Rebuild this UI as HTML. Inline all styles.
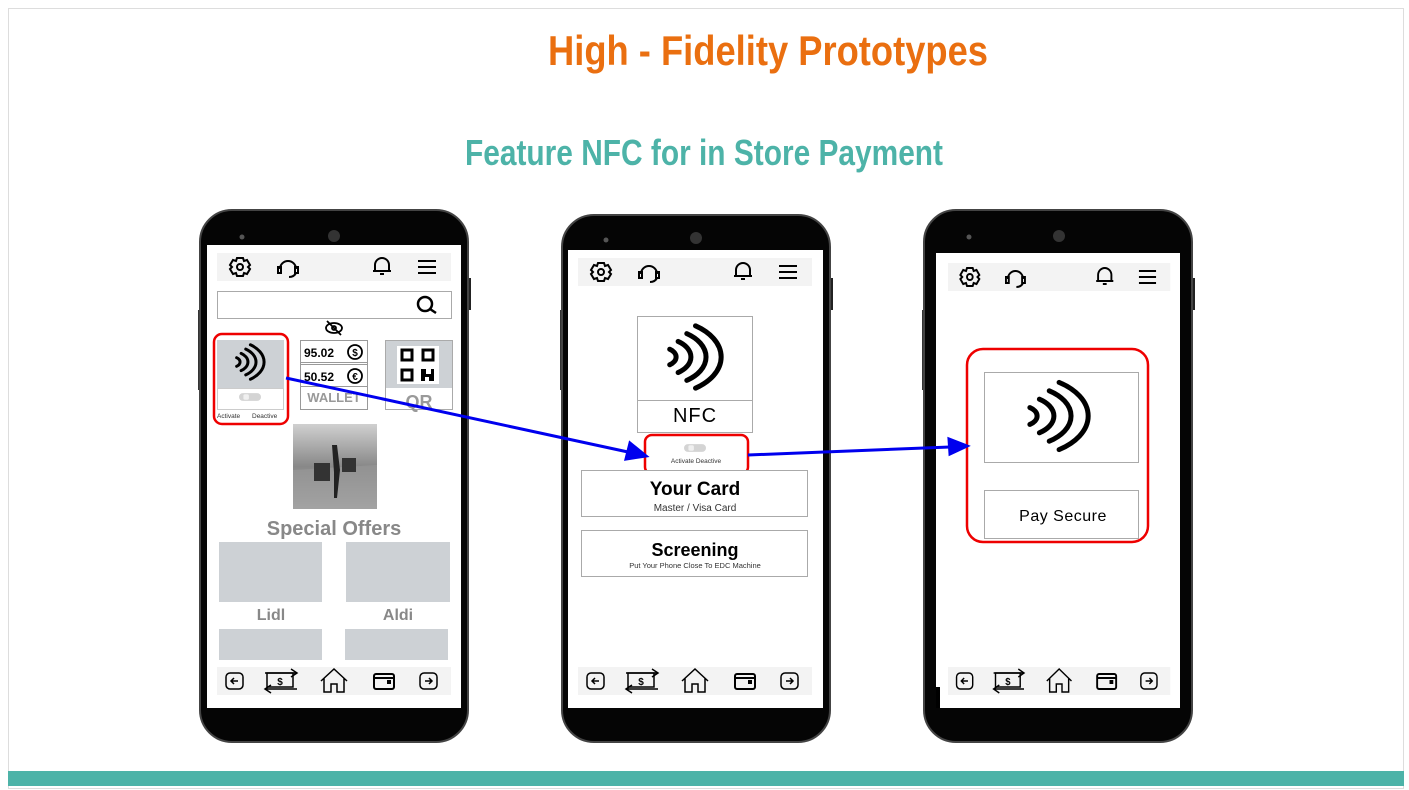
<!DOCTYPE html>
<html><head><meta charset="utf-8"><style>
html,body{margin:0;padding:0;background:#fff;}
svg{display:block;}
text{font-family:"Liberation Sans",sans-serif;}
</style></head><body>
<svg width="1409" height="790" viewBox="0 0 1409 790" xmlns="http://www.w3.org/2000/svg">
<defs>
<g id="nfc" fill="none" stroke-linecap="round" vector-effect="non-scaling-stroke">
<path vector-effect="non-scaling-stroke" d="M2.9 -4.1 A5 5 0 0 1 2.9 4.1"/>
<path vector-effect="non-scaling-stroke" d="M5.7 -8.2 A10 10 0 0 1 5.7 8.2"/>
<path vector-effect="non-scaling-stroke" d="M8.6 -12.3 A15 15 0 0 1 8.6 12.3"/>
<path vector-effect="non-scaling-stroke" d="M11.5 -16.4 A20 20 0 0 1 11.5 16.4"/>
</g>
<g id="gear" fill="none" stroke="#000" stroke-width="2">
<circle r="3"/><path d="M-3 -9 L3 -9 L4 -6 L7 -7 L10 -2 L8 0 L10 2 L7 7 L4 6 L3 9 L-3 9 L-4 6 L-7 7 L-10 2 L-8 0 L-10 -2 L-7 -7 L-4 -6Z"/>
</g>
<g id="head" fill="none" stroke="#000" stroke-width="2">
<path d="M-8 2 A8 8 0 0 1 8 2"/><rect x="-10" y="0" width="3" height="6"/><rect x="7" y="0" width="3" height="6"/><path d="M8 6 Q6 10 1 10"/>
</g>
<g id="bell" fill="none" stroke="#000" stroke-width="2">
<path d="M-7 5 L-7 -1 A7 7 0 0 1 7 -1 L7 5 Z M-9 5 L9 5"/><path d="M-2 8 L2 8"/>
</g>
<g id="menu" stroke="#000" stroke-width="2"><path d="M-9 -6H9M-9 0H9M-9 6H9"/></g>
<g id="bottom" fill="none" stroke="#000" stroke-width="1.5">
<rect x="-9" y="-8" width="17" height="16" rx="4"/><path d="M3 0H-4M-1 -3L-4 0L-1 3"/>
</g>
<g id="tbar">
<rect x="0" y="0" width="234" height="28" fill="#f3f3f3"/>
<use href="#gear" x="23" y="14"/><use href="#head" x="71" y="14"/><use href="#bell" x="165" y="13"/><use href="#menu" x="210" y="14"/>
</g>
<g id="bbar">
<rect x="0" y="0" width="234" height="28" fill="#f3f3f3"/>
<use href="#bottom" x="18" y="14"/>
<g fill="none" stroke="#000" stroke-width="1.5"><rect x="50" y="6" width="26" height="14"/><path d="M48 6H80M74 2L80 6L74 10M80 22H48M54 18L48 22L54 26"/></g>
<text x="63" y="18" font-size="10" font-weight="bold" text-anchor="middle">$</text>
<path d="M104 14L117 2L130 14M107 11V25H114V17H120V25H127V11" fill="none" stroke="#000" stroke-width="1.5"/>
<g fill="none" stroke="#000" stroke-width="2"><rect x="157" y="7" width="20" height="15" rx="2"/><path d="M157 11H177"/><rect x="171" y="14" width="2" height="2" fill="#000"/></g>
<g transform="translate(211,14) scale(-1,1)"><use href="#bottom"/></g>
</g>
<g id="toggle">
<rect x="-20" y="-7" width="40" height="14" rx="7" fill="#d4d4d4"/><rect x="-12" y="-5" width="10" height="10" rx="3" fill="#f0f0f0"/>
</g>
<linearGradient id="ph" x1="0" y1="0" x2="0" y2="1"><stop offset="0" stop-color="#d0d0d0"/><stop offset="0.5" stop-color="#888"/><stop offset="1" stop-color="#b0b0b0"/></linearGradient>
</defs>

<rect x="8.5" y="8.5" width="1395" height="780" fill="#fff" stroke="#ddd"/>
<rect x="8" y="771" width="1396" height="15" fill="#4db3a8"/>

<text x="768" y="65" font-family="Liberation Sans Narrow, Liberation Sans, sans-serif" font-size="42" font-weight="bold" fill="#ea6f10" text-anchor="middle" textLength="440" lengthAdjust="spacingAndGlyphs">High - Fidelity Prototypes</text>
<text x="704" y="165" font-family="Liberation Sans Narrow, Liberation Sans, sans-serif" font-size="36" font-weight="bold" fill="#4db3a8" text-anchor="middle" textLength="478" lengthAdjust="spacingAndGlyphs">Feature NFC for in Store Payment</text>

<!-- Phone 1 -->
<rect x="198" y="310" width="4" height="80" fill="#333"/>
<rect x="466" y="278" width="5" height="32" fill="#222"/>
<rect x="200" y="210" width="268" height="532" rx="32" fill="#050505" stroke="#444" stroke-width="2"/>
<circle cx="242" cy="237" r="2.5" fill="#555"/><circle cx="334" cy="236" r="6" fill="#333"/>
<rect x="207" y="245" width="254" height="463" fill="#fff"/>
<use href="#tbar" x="217" y="253"/>
<rect x="217.5" y="291.5" width="234" height="27" fill="#fff" stroke="#aaa"/>
<circle cx="425" cy="304" r="7" fill="none" stroke="#000" stroke-width="2.5"/><path d="M430 309L436 313" stroke="#000" stroke-width="2.5"/>
<g fill="none" stroke="#000" stroke-width="1.8"><ellipse cx="334" cy="328" rx="8" ry="5"/><circle cx="334" cy="328" r="2"/><path d="M327 321L341 335"/></g>
<rect x="217" y="340" width="67" height="48" fill="#cdd1d5"/>
<g transform="translate(232,362) scale(1.6,1.05)" stroke="#000" stroke-width="3"><use href="#nfc"/></g>
<rect x="217.5" y="388.5" width="66" height="21" fill="#fff" stroke="#ccc"/>
<g transform="translate(250,397) scale(0.55)"><use href="#toggle"/></g>
<text x="217" y="418" font-size="6.5" fill="#333">Activate</text><text x="252" y="418" font-size="6.5" fill="#333">Deactive</text>
<rect x="214" y="334" width="74" height="90" rx="8" fill="none" stroke="#e00" stroke-width="2.5"/>
<rect x="300.5" y="340.5" width="67" height="69" fill="#fff" stroke="#999"/>
<rect x="300.5" y="340.5" width="67" height="22" fill="#fff" stroke="#999"/>
<rect x="300.5" y="364.5" width="67" height="22" fill="#fff" stroke="#999"/>
<text x="304" y="357" font-size="12" font-weight="bold">95.02</text><circle cx="355" cy="352" r="7" fill="none" stroke="#000" stroke-width="1.8"/><text x="355" y="356" font-size="10" font-weight="bold" text-anchor="middle">$</text>
<text x="304" y="381" font-size="12" font-weight="bold">50.52</text><circle cx="355" cy="376" r="7" fill="none" stroke="#000" stroke-width="1.8"/><text x="355" y="380" font-size="10" font-weight="bold" text-anchor="middle">€</text>
<text x="334" y="402" font-size="13" font-weight="bold" fill="#999" text-anchor="middle">WALLET</text>
<rect x="385.5" y="340.5" width="67" height="69" fill="#fff" stroke="#aaa"/>
<rect x="386" y="341" width="66" height="47" fill="#cdd1d5"/>
<rect x="397" y="346" width="42" height="38" fill="#fff"/>
<g fill="none" stroke="#000" stroke-width="3"><rect x="402" y="350" width="10" height="10"/><rect x="423" y="350" width="10" height="10"/><rect x="402" y="370" width="10" height="10"/></g>
<path d="M421 369h5v5h5v-5h3v12h-5v-4h-4v4h-4z" fill="#000"/>
<text x="419" y="408" font-size="18" font-weight="bold" fill="#999" text-anchor="middle">QR</text>
<rect x="293" y="424" width="84" height="85" fill="url(#ph)"/>
<path d="M293 470 L377 465 L377 509 L293 509Z" fill="#999" opacity="0.6"/>
<path d="M332 445 l5 0 l3 25 l-3 28 l-3 0 l0 -26z" fill="#222"/><rect x="314" y="463" width="16" height="18" fill="#333"/><rect x="342" y="458" width="14" height="14" fill="#333"/>
<text x="334" y="535" font-size="20" font-weight="bold" fill="#888" text-anchor="middle">Special Offers</text>
<rect x="219" y="542" width="103" height="60" fill="#cdd1d5"/><rect x="346" y="542" width="104" height="60" fill="#cdd1d5"/>
<text x="271" y="620" font-size="16" font-weight="bold" fill="#888" text-anchor="middle">Lidl</text>
<text x="398" y="620" font-size="16" font-weight="bold" fill="#888" text-anchor="middle">Aldi</text>
<rect x="219" y="629" width="103" height="31" fill="#cdd1d5"/><rect x="345" y="629" width="103" height="31" fill="#cdd1d5"/>
<use href="#bbar" x="217" y="667"/>

<!-- Phone 2 -->
<rect x="560" y="310" width="4" height="80" fill="#333"/>
<rect x="828" y="278" width="5" height="32" fill="#222"/>
<rect x="562" y="215" width="268" height="527" rx="32" fill="#050505" stroke="#444" stroke-width="2"/>
<circle cx="606" cy="240" r="2.5" fill="#555"/><circle cx="696" cy="238" r="6" fill="#333"/>
<rect x="568" y="250" width="255" height="458" fill="#fff"/>
<use href="#tbar" x="578" y="258"/>
<rect x="637.5" y="316.5" width="115" height="116" fill="#fff" stroke="#aaa"/>
<path d="M637.5 400.5H752.5" stroke="#aaa"/>
<g transform="translate(661,357) scale(3,1.9)" stroke="#000" stroke-width="5"><use href="#nfc"/></g>
<text x="695" y="422" font-size="20" text-anchor="middle" letter-spacing="1">NFC</text>
<g transform="translate(695,448) scale(0.55)"><use href="#toggle"/></g>
<text x="696" y="463" font-size="6.5" fill="#333" text-anchor="middle">Activate  Deactive</text>
<rect x="645" y="435" width="103" height="39" rx="7" fill="none" stroke="#e00" stroke-width="2.5"/>
<rect x="581.5" y="470.5" width="226" height="46" fill="#fff" stroke="#aaa"/>
<text x="695" y="495" font-size="19" font-weight="bold" text-anchor="middle">Your Card</text>
<text x="695" y="511" font-size="10" fill="#333" text-anchor="middle">Master / Visa Card</text>
<rect x="581.5" y="530.5" width="226" height="46" fill="#fff" stroke="#aaa"/>
<text x="695" y="556" font-size="18" font-weight="bold" text-anchor="middle">Screening</text>
<text x="695" y="568" font-size="7.5" fill="#333" text-anchor="middle">Put Your Phone Close To EDC Machine</text>
<use href="#bbar" x="578" y="667"/>

<!-- Phone 3 -->
<rect x="922" y="310" width="4" height="80" fill="#333"/>
<rect x="1190" y="278" width="5" height="32" fill="#222"/>
<rect x="924" y="210" width="268" height="532" rx="32" fill="#050505" stroke="#444" stroke-width="2"/>
<circle cx="969" cy="237" r="2.5" fill="#555"/><circle cx="1059" cy="236" r="6" fill="#333"/>
<rect x="936" y="253" width="244" height="455" fill="#fff"/>
<rect x="936" y="687" width="4" height="21" fill="#000"/>
<g transform="translate(948,263) scale(0.95,1)"><use href="#tbar"/></g>
<rect x="984.5" y="372.5" width="154" height="90" fill="#fff" stroke="#aaa"/>
<g transform="translate(1020,416) scale(3.4,2.05)" stroke="#000" stroke-width="5"><use href="#nfc"/></g>
<rect x="984.5" y="490.5" width="154" height="48" fill="#fff" stroke="#aaa"/>
<text x="1063" y="521" font-size="16" text-anchor="middle" letter-spacing="0.5">Pay Secure</text>
<rect x="967" y="349" width="181" height="193" rx="16" fill="none" stroke="#e00" stroke-width="2.5"/>
<g transform="translate(948,667) scale(0.95,1)"><use href="#bbar"/></g>

<!-- Arrows -->
<g stroke="#0000ee" stroke-width="3" fill="#0000ee">
<path d="M286 378 L628 452" fill="none"/><path d="M646 456 L626 459 L630 443Z"/>
<path d="M748 455 L950 447" fill="none"/><path d="M967 446 L950 454 L949 439Z"/>
</g>
</svg>
</body></html>
